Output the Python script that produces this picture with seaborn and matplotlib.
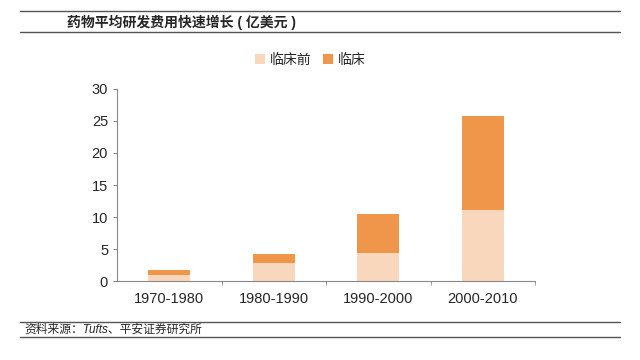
import numpy as np
import pandas as pd
import seaborn as sns
import matplotlib.pyplot as plt
from matplotlib.patches import Patch
from matplotlib.lines import Line2D

sns.set_style("white")
plt.rcParams['font.family'] = ['Liberation Sans', 'Noto Sans CJK SC', 'DejaVu Sans']
plt.rcParams['axes.unicode_minus'] = False

# 데이터
periods = ['1970-1980', '1980-1990', '1990-2000', '2000-2010']
preclinical = [1.0, 2.9, 4.4, 11.1]
clinical = [0.8, 1.3, 6.1, 14.7]
series_names = ['临床前', '临床']
colors = ['#F9D7BC', '#F0964B']

df = pd.DataFrame({'period': periods, 'pre': preclinical, 'clin': clinical})
df['total'] = df['pre'] + df['clin']

fig = plt.figure(figsize=(6.4, 3.6), dpi=100)
ax = fig.add_axes([0.183, 0.219, 0.653, 0.534])

# stacked: total first, preclinical over it
sns.barplot(data=df, x='period', y='total', color=colors[1], width=0.4,
            saturation=1, linewidth=0, ax=ax)
sns.barplot(data=df, x='period', y='pre', color=colors[0], width=0.4,
            saturation=1, linewidth=0, ax=ax)

ax.set_ylim(0, 30)
ax.set_yticks(range(0, 31, 5))
ax.set_xlim(-0.5, 3.5)
ax.set_xlabel('')
ax.set_ylabel('')
ax.tick_params(axis='y', labelsize=10.5, length=3, color='#888888', direction='out', left=True)
ax.tick_params(axis='x', labelsize=10.5, length=0, pad=8)
for s in ['top', 'right']:
    ax.spines[s].set_visible(False)
for s in ['left', 'bottom']:
    ax.spines[s].set_color('#888888')
    ax.spines[s].set_linewidth(0.8)
# small tick marks between categories
ax.set_xticks([0.5, 1.5, 2.5, 3.5], minor=True)
ax.tick_params(axis='x', which='minor', length=3, color='#888888', bottom=True)

handles = [Patch(facecolor=c, edgecolor='none') for c in colors]
fig.legend(handles, series_names, loc='center', bbox_to_anchor=(0.485, 0.833),
           ncol=2, frameon=False, fontsize=10, handlelength=0.7, handleheight=0.7,
           handletextpad=0.4, columnspacing=0.8)

# header and footer rules
for yy in [0.969, 0.911, 0.105, 0.064]:
    fig.add_artist(Line2D([0.032, 0.968], [yy, yy], color='#555555', lw=1.0))
fig.text(0.105, 0.938, '药物平均研发费用快速增长 ( 亿美元 )', fontsize=10,
         fontweight='bold', va='center', ha='left')
fig.text(0.038, 0.084, '资料来源：Tufts、平安证券研究所', fontsize=8.5,
         style='italic', va='center', ha='left')

fig.savefig('out.png', dpi=100)
